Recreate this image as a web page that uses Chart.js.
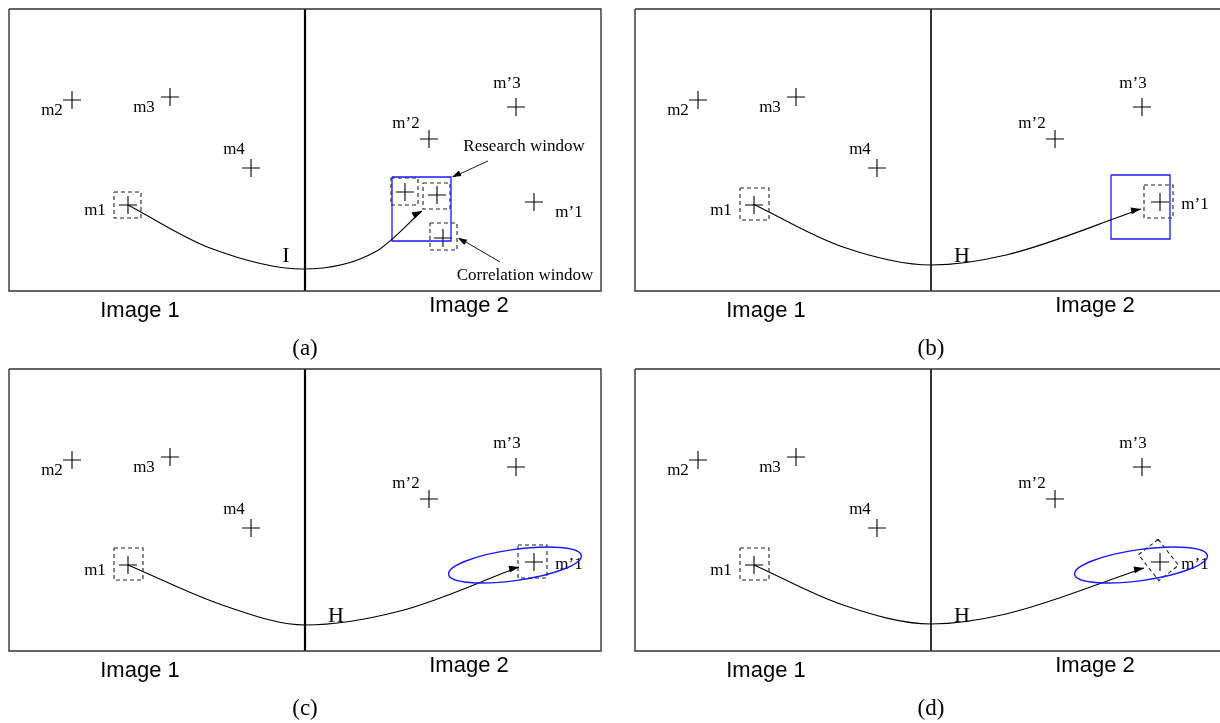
<!DOCTYPE html>
<html>
<head>
<meta charset="utf-8">
<script src="https://cdn.jsdelivr.net/npm/chart.js@4.4.1/dist/chart.umd.min.js"></script>
<style>
  body { margin: 0; background: #fff; }
  canvas { display: block; }
</style>
</head>
<body>
<canvas id="fig" width="1220" height="723"></canvas>
<script>
// feature points, panel coordinates (y goes down)
const img1Names = ['m1', 'm2', 'm3', 'm4'];
const img1X = [128, 72, 170, 251];
const img1Y = [205, 100, 97, 168];
const img1LabX = [95, 52, 144, 234];
const img1LabY = [211, 111, 108, 150];

const img2Names = ['m\u20191', 'm\u20192', 'm\u20193'];
const img2X = [534, 429, 516];
const img2Y = [202, 139, 107];
const img2LabX = [569, 406, 507];
const img2LabY = [207, 124, 84];

// candidates in the research window (panel a)
const candX = [405, 437, 443];
const candY = [192, 195, 238];
const candBoxes = [[391, 178, 418, 205], [423, 183, 450, 209], [430, 223, 457, 250]];

const panelNames = ['(a)', '(b)', '(c)', '(d)'];
const mapNames = ['I', 'H', 'H', 'H'];
const imageNames = ['Image 1', 'Image 2'];

// curve m1 -> m'1 for each panel
const curveX = [
  [128, 210, 303, 375, 422],
  [127, 217, 305, 380, 515],
  [128, 225, 305, 400, 519],
  [128, 217, 305, 380, 518]
];
const curveY = [
  [205, 248, 269, 252, 211],
  [204, 247, 265, 255, 209],
  [205, 246, 265, 251, 207],
  [205, 245, 264, 254, 208]
];

const m1Boxes = [[114, 192, 141, 218], [114, 188, 143, 220], [114, 188, 143, 220], [114, 188, 143, 220]];
const m1pBox = [518, 185, 547, 218];
const searchRects = [[392, 177, 451, 241], [485, 175, 544, 239]];
const ellipse = { cx: 515, cy: 205, rx: 67, ry: 15.5, rot: -8 };
const tiltBox = { cx: 532.5, cy: 200, w: 33, h: 25, rot: 52 };

const panelDX = [0, 626, 0, 626];
const panelDY = [0, 0, 360, 360];

const serif = '"Liberation Serif", "DejaVu Serif", serif';
const sans = '"Liberation Sans", Arial, sans-serif';

const datasets = [];
function seg(xs, ys, dx, dy, style) {
  datasets.push(Object.assign({
    type: 'line',
    data: xs.map((x, i) => ({ x: x + dx, y: ys[i] + dy })),
    showLine: true, pointRadius: 0, fill: false,
    borderColor: '#000', borderWidth: 1.1, tension: 0
  }, style || {}));
}
function rect(b, dx, dy, style) {
  seg([b[0], b[2], b[2], b[0], b[0]], [b[1], b[1], b[3], b[3], b[1]], dx, dy, style);
}
function crosses(xs, ys, dx, dy) {
  datasets.push({
    type: 'scatter',
    data: xs.map((x, i) => ({ x: x + dx, y: ys[i] + dy })),
    pointStyle: 'cross', pointRadius: 9, borderColor: '#000', borderWidth: 1.1,
    backgroundColor: '#000'
  });
}
const dashed = { borderDash: [4, 3], borderColor: '#222' };

for (let p = 0; p < 4; p++) {
  const dx = panelDX[p], dy = panelDY[p];
  rect([9, 9, 601, 291], dx, dy, { borderColor: '#333', borderWidth: 1.4 });
  seg([305, 305], [9, 291], dx, dy, { borderWidth: p % 2 ? 1.6 : 2.2 });
  crosses(img1X, img1Y, dx, dy);
  crosses(img2X, img2Y, dx, dy);
  rect(m1Boxes[p], dx, dy, dashed);
  seg(curveX[p], curveY[p], dx, dy, { cubicInterpolationMode: 'monotone' });
  if (p === 0) {
    rect(searchRects[0], dx, dy, { borderColor: '#1a1aff', borderWidth: 1.3 });
    candBoxes.forEach(b => rect(b, dx, dy, dashed));
    crosses(candX, candY, dx, dy);
    seg([488, 453], [161, 177], dx, dy, { borderWidth: 0.9 });
    seg([500, 459], [262, 238], dx, dy, { borderWidth: 0.9 });
  } else if (p === 1) {
    rect(searchRects[1], dx, dy, { borderColor: '#1a1aff', borderWidth: 1.3 });
    rect(m1pBox, dx, dy, dashed);
  } else if (p === 2) {
    rect(m1pBox, dx, dy, dashed);
  } else {
    const a = tiltBox.rot * Math.PI / 180;
    const ux = Math.cos(a), uy = Math.sin(a);
    const hw = tiltBox.w / 2, hh = tiltBox.h / 2;
    const cs = [[-hw, -hh], [hw, -hh], [hw, hh], [-hw, hh], [-hw, -hh]];
    seg(cs.map(c => tiltBox.cx + c[0] * ux - c[1] * uy),
        cs.map(c => tiltBox.cy + c[0] * uy + c[1] * ux), dx, dy, dashed);
  }
}

function arrowHead(ctx, x0, y0, x1, y1, len, half) {
  const a = Math.atan2(y1 - y0, x1 - x0);
  ctx.beginPath();
  ctx.moveTo(x1, y1);
  ctx.lineTo(x1 - len * Math.cos(a) + half * Math.sin(a), y1 - len * Math.sin(a) - half * Math.cos(a));
  ctx.lineTo(x1 - len * Math.cos(a) - half * Math.sin(a), y1 - len * Math.sin(a) + half * Math.cos(a));
  ctx.closePath();
  ctx.fill();
}

const decor = {
  id: 'decor',
  beforeDraw(chart) {
    const ctx = chart.ctx;
    ctx.save();
    ctx.fillStyle = '#fff';
    ctx.fillRect(0, 0, chart.width, chart.height);
    ctx.restore();
  },
  afterDatasetsDraw(chart) {
    const ctx = chart.ctx;
    const X = v => chart.scales.x.getPixelForValue(v);
    const Y = v => chart.scales.y.getPixelForValue(v);
    ctx.save();
    ctx.fillStyle = '#000';
    ctx.textAlign = 'center';
    ctx.textBaseline = 'middle';
    for (let p = 0; p < 4; p++) {
      const dx = panelDX[p], dy = panelDY[p];
      // point labels
      ctx.font = '17px ' + serif;
      img1Names.forEach((n, i) => ctx.fillText(n, X(img1LabX[i] + dx), Y(img1LabY[i] + dy)));
      img2Names.forEach((n, i) => {
        const ly = i === 0 && p > 0 ? 205 : img2LabY[i] + (i === 0 ? 6 : 0);
        ctx.fillText(n, X(img2LabX[i] + dx), Y(ly + dy));
      });
      // transform letter
      ctx.font = '22px ' + serif;
      ctx.fillText(mapNames[p], X((p === 0 ? 286 : 336) + dx), Y(256 + dy));
      // image captions
      ctx.font = '22px ' + sans;
      ctx.fillText(imageNames[0], X(140 + dx), Y(311 + dy));
      ctx.fillText(imageNames[1], X(469 + dx), Y(306 + dy));
      ctx.font = '23px ' + serif;
      ctx.fillText(panelNames[p], X(305 + dx), Y(349 + dy));
      // arrow head at the end of the curve
      const cx = curveX[p], cy = curveY[p], n = cx.length;
      const bx = cx[n - 1] - 0.35 * (cx[n - 1] - cx[n - 2]);
      const by = cy[n - 1] - 0.2 * (cy[n - 1] - cy[n - 2]);
      arrowHead(ctx, X(bx + dx), Y(by + dy), X(cx[n - 1] + dx), Y(cy[n - 1] + dy), 10, 3.5);
      if (p === 0) {
        ctx.font = '17px ' + serif;
        ctx.fillText('Research window', X(524), Y(147));
        ctx.fillText('Correlation window', X(525), Y(276));
        arrowHead(ctx, X(488), Y(161), X(452), Y(177), 9, 3);
        arrowHead(ctx, X(500), Y(262), X(458), Y(238), 9, 3);
      }
      if (p >= 2) {
        ctx.strokeStyle = '#1a1aff';
        ctx.lineWidth = 1.4;
        ctx.beginPath();
        ctx.ellipse(X(ellipse.cx + dx), Y(ellipse.cy + dy), ellipse.rx, ellipse.ry,
          ellipse.rot * Math.PI / 180, 0, Math.PI * 2);
        ctx.stroke();
      }
    }
    ctx.restore();
  }
};

new Chart(document.getElementById('fig'), {
  type: 'scatter',
  data: { datasets: datasets },
  options: {
    responsive: false,
    animation: false,
    layout: { padding: 0, autoPadding: false },
    plugins: { legend: { display: false }, tooltip: { enabled: false } },
    scales: {
      x: { type: 'linear', min: 0, max: 1220, display: false },
      y: { type: 'linear', min: 0, max: 723, reverse: true, display: false }
    }
  },
  plugins: [decor]
});
</script>
</body>
</html>
